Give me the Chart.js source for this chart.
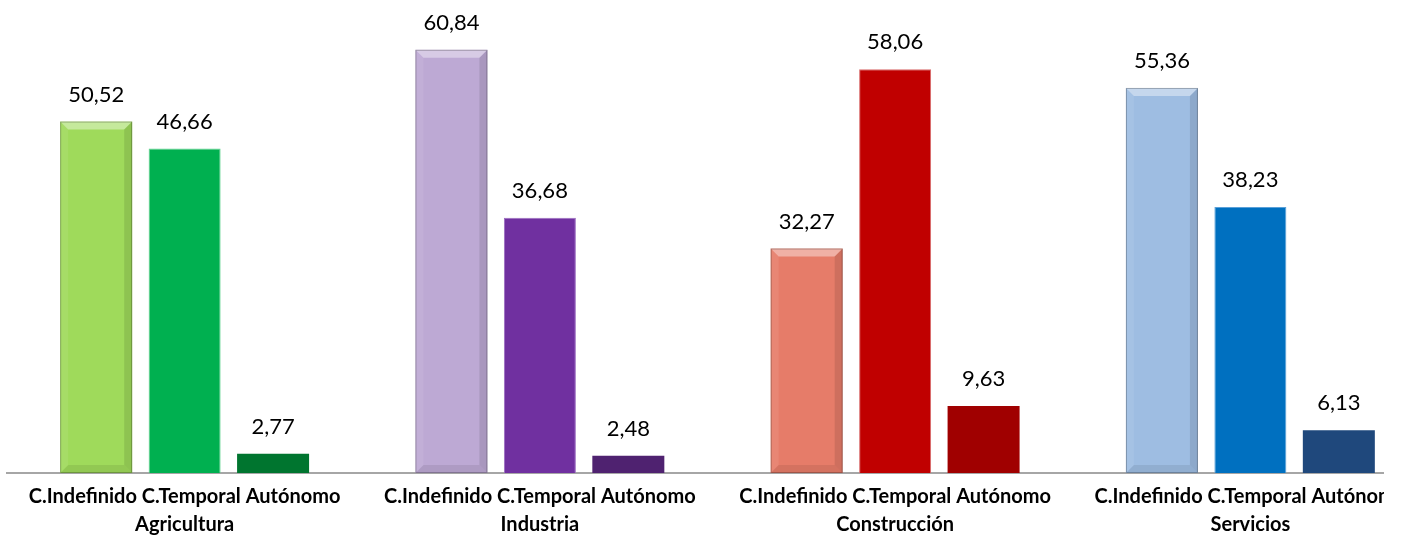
<!DOCTYPE html>
<html>
<head>
<meta charset="utf-8">
<script src="https://cdn.jsdelivr.net/npm/chart.js@4.4.0/dist/chart.umd.min.js"></script>
<style>
    html, body { margin: 0; padding: 0; background: #fff; overflow: hidden; }
    #clip { width: 1384px; height: 535px; overflow: hidden; position: relative; }
    #wrap { width: 1436px; height: 535px; position: absolute; left: 0; top: 0; }
</style>
</head>
<body>
<div id="clip"><div id="wrap"><canvas id="chart"></canvas></div></div>
<script>
const sectors = ["Agricultura", "Industria", "Construcción", "Servicios"];
const contractTypes = ["C.Indefinido", "C.Temporal", "Autónomo"];

const indefinido = [50.52, 60.84, 32.27, 55.36];
const temporal = [46.66, 36.68, 58.06, 38.23];
const autonomo = [2.77, 2.48, 9.63, 6.13];

// one colour per sector for each bar
const indefinidoColors = ["#9FDA5B", "#BDA9D4", "#E67C69", "#9EBDE2"];
const temporalColors = ["#00B050", "#7030A0", "#C00000", "#0070C0"];
const autonomoColors = ["#00752F", "#4F2270", "#A00000", "#1F487C"];
const temporalBorders = ["#5FD38E", "#9B6CC0", "#D86A6A", "#5AA0D8"];

const fontFamily = "Lato, 'Liberation Sans', sans-serif";

// value labels above each bar
const valueLabels = {
    id: "valueLabels",
    afterDatasetsDraw(chart) {
        const ctx = chart.ctx;
        ctx.save();
        ctx.font = "22px " + fontFamily;
        ctx.fillStyle = "#000";
        ctx.textAlign = "center";
        ctx.textBaseline = "middle";
        chart.data.datasets.forEach((ds, i) => {
            chart.getDatasetMeta(i).data.forEach((bar, j) => {
                const txt = ds.data[j].toFixed(2).replace(".", ",");
                ctx.fillText(txt, bar.x, bar.y - 27);
            });
        });
        ctx.restore();
    },
};

// bevel look on the first bar of each group
const bevel = {
    id: "bevel",
    afterDatasetsDraw(chart) {
        const ctx = chart.ctx;
        const b = 8;
        chart.getDatasetMeta(0).data.forEach((bar) => {
            const l = bar.x - bar.width / 2;
            const r = bar.x + bar.width / 2;
            const t = bar.y;
            const btm = bar.base;
            const poly = (pts, color) => {
                ctx.beginPath();
                ctx.moveTo(pts[0][0], pts[0][1]);
                pts.slice(1).forEach((p) => ctx.lineTo(p[0], p[1]));
                ctx.closePath();
                ctx.fillStyle = color;
                ctx.fill();
            };
            ctx.save();
            poly([[l, t], [r, t], [r - b, t + b], [l + b, t + b]], "rgba(255,255,255,0.4)");
            poly([[l, t], [l + b, t + b], [l + b, btm - b], [l, btm]], "rgba(255,255,255,0.08)");
            poly([[r, t], [r, btm], [r - b, btm - b], [r - b, t + b]], "rgba(0,0,0,0.10)");
            poly([[l, btm], [l + b, btm - b], [r - b, btm - b], [r, btm]], "rgba(0,0,0,0.08)");
            ctx.strokeStyle = "rgba(0,0,0,0.25)";
            ctx.lineWidth = 1;
            ctx.strokeRect(l + 0.5, t + 0.5, bar.width - 1, btm - t - 1);
            ctx.restore();
        });
    },
};

const labels = sectors.map((s) => [contractTypes.join(" "), s]);

new Chart(document.getElementById("chart").getContext("2d"), {
    type: "bar",
    data: {
        labels: labels,
        datasets: [
            {
                label: contractTypes[0],
                data: indefinido,
                backgroundColor: indefinidoColors,
                borderWidth: 0,
            },
            {
                label: contractTypes[1],
                data: temporal,
                backgroundColor: temporalColors,
                borderColor: temporalBorders,
                borderWidth: 1,
            },
            {
                label: contractTypes[2],
                data: autonomo,
                backgroundColor: autonomoColors,
                borderWidth: 0,
            },
        ],
    },
    options: {
        responsive: true,
        maintainAspectRatio: false,
        animation: false,
        layout: { padding: { left: 7, right: 8, top: 0, bottom: -14 } },
        categoryPercentage: 0.747,
        barPercentage: 0.814,
        plugins: {
            legend: { display: false },
            tooltip: { enabled: false },
        },
        scales: {
            x: {
                grid: { display: false, drawTicks: false },
                border: { display: true, color: "#A6A6A6", width: 2 },
                ticks: {
                    autoSkip: false,
                    maxRotation: 0,
                    padding: 10,
                    color: "#000",
                    font: { family: fontFamily, size: 20, weight: "bold", lineHeight: 1.4 },
                },
            },
            y: {
                display: false,
                min: 0,
                max: 68,
            },
        },
    },
    plugins: [bevel, valueLabels],
});
</script>
</body>
</html>
